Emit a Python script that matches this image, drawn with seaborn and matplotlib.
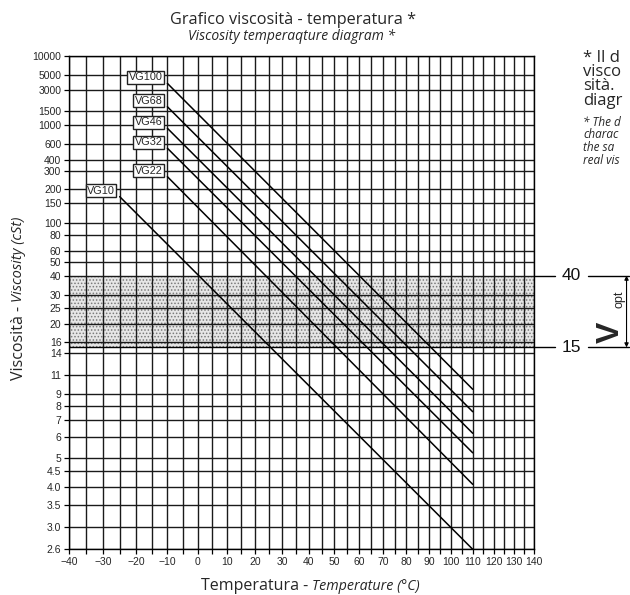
import numpy as np
import pandas as pd
import seaborn as sns
import matplotlib.pyplot as plt
import matplotlib.transforms as mtransforms
from matplotlib import font_manager as fm

# ISO VG grades: start point and end point of each line (temp in degC, viscosity in cSt)
grades = ['VG100', 'VG68', 'VG46', 'VG32', 'VG22', 'VG10']
t_start = [-10, -10, -10, -10, -10, -25]
v_start = [3690, 1730, 916, 533, 265, 170]
t_end = [110, 110, 110, 110, 110, 110]
v_end = [9.43, 7.55, 6.19, 5.23, 4.07, 2.6]

y_ticks = [10000, 5000, 3000, 1500, 1000, 600, 400, 300, 200, 150, 100, 80, 60, 50,
           40, 30, 25, 20, 16, 14, 11, 9, 8, 7, 6, 5, 4.5, 4.0, 3.5, 3.0, 2.6]
y_labels = ['10000', '5000', '3000', '1500', '1000', '600', '400', '300', '200', '150',
            '100', '80', '60', '50', '40', '30', '25', '20', '16', '14', '11', '9', '8',
            '7', '6', '5', '4.5', '4.0', '3.5', '3.0', '2.6']
x_major = list(range(-40, 141, 10))
x_minor = list(range(-35, 141, 10))

v_opt_low, v_opt_high = 15, 40


# Walther / ASTM D341 chart scales
def y_fwd(v):
    v = np.asarray(v, dtype=float)
    with np.errstate(invalid='ignore', divide='ignore'):
        return np.log10(np.log10(v + 0.7))


def y_inv(y):
    y = np.asarray(y, dtype=float)
    return 10 ** (10 ** y) - 0.7


def x_fwd(t):
    t = np.asarray(t, dtype=float)
    with np.errstate(invalid='ignore', divide='ignore'):
        return np.log10(t + 273.15)


def x_inv(u):
    u = np.asarray(u, dtype=float)
    return 10 ** u - 273.15


rows = []
for g, ts, vs, te, ve in zip(grades, t_start, v_start, t_end, v_end):
    rows.append({'grade': g, 'temp': ts, 'visc': vs})
    rows.append({'grade': g, 'temp': te, 'visc': ve})
df = pd.DataFrame(rows)

sns.set_theme(style='white')
plt.rcParams['font.family'] = ['Open Sans', 'DejaVu Sans']
installed = {f.name for f in fm.fontManager.ttflist}
narrow = 'Liberation Sans Narrow' if 'Liberation Sans Narrow' in installed else 'Liberation Sans'

fig = plt.figure(figsize=(6.3, 5.95), dpi=100)
ax = fig.add_axes([69 / 630, 1 - 549.3 / 595, (534 - 69) / 630, (549.3 - 55.7) / 595])
ax.set_xscale('function', functions=(x_fwd, x_inv))
ax.set_yscale('function', functions=(y_fwd, y_inv))

sns.lineplot(data=df, x='temp', y='visc', hue='grade', units='grade', estimator=None,
             palette={g: 'black' for g in grades}, legend=False, lw=1.1, ax=ax, zorder=3)

ax.set_xlim(-40, 140)
ax.set_ylim(2.6, 10000)

# optimal viscosity band
plt.rcParams['hatch.linewidth'] = 0.7
ax.axhspan(v_opt_low, v_opt_high, facecolor='#e6e6e6', edgecolor='#7a7a7a',
           hatch='.....', lw=0, zorder=0.3)
ax.axhline(v_opt_low, color='black', lw=1.0, zorder=0.6)

# ticks and grid
ax.set_xticks(x_major)
ax.set_xticks(x_minor, minor=True)
ax.set_xticklabels([str(t).replace('-', '\u2212') for t in x_major],
                   fontfamily=narrow, fontsize=7.5)
ax.set_yticks(y_ticks)
ax.set_yticklabels(y_labels, fontfamily=narrow, fontsize=7.5)
ax.yaxis.set_minor_locator(plt.NullLocator())
ax.tick_params(axis='both', which='both', direction='out', length=3.5, width=0.9,
               color='black', pad=2, bottom=True, left=True)
ax.set_axisbelow(True)
ax.grid(True, which='both', color='#1a1a1a', lw=1.0)
for s in ax.spines.values():
    s.set_color('black')
    s.set_linewidth(1.0)
ax.set_xlabel('')
ax.set_ylabel('')

# grade labels at line starts
for g, ts, vs in zip(grades, t_start, v_start):
    ax.annotate(g, xy=(ts, vs), xytext=(-5, 6), textcoords='offset pixels',
                ha='right', va='center', fontsize=7.8, fontfamily=narrow, zorder=5,
                bbox=dict(boxstyle='square,pad=0.12', fc='white', ec='#222222', lw=1.0))

# titles
fig.text(293 / 630, 1 - 20 / 595, 'Grafico viscosità - temperatura *',
         ha='center', va='center', fontsize=11.7)
fig.text(292 / 630, 1 - 37 / 595, 'Viscosity temperaqture diagram *',
         ha='center', va='center', fontsize=10, style='italic')

# axis labels (upright + italic parts)
fig.text(312 / 630, 1 - 586 / 595, 'Temperatura - ', ha='right', va='center', fontsize=11.5)
fig.text(312 / 630, 1 - 586 / 595, 'Temperature (°C)', ha='left', va='center',
         fontsize=10.3, style='italic')
fig.text(19 / 630, 1 - 302 / 595, 'Viscosità - ', ha='center', va='top',
         rotation=90, fontsize=11.5)
fig.text(19 / 630, 1 - 302 / 595, 'Viscosity (cSt)', ha='center', va='bottom',
         rotation=90, fontsize=10.5, style='italic')

# right side: optimal range markers
trans = mtransforms.blended_transform_factory(ax.transAxes, ax.transData)
for v in (v_opt_high, v_opt_low):
    ax.plot([1.0, 1.045], [v, v], color='black', lw=1.0, transform=trans, clip_on=False)
    ax.plot([1.117, 1.205], [v, v], color='black', lw=1.0, transform=trans, clip_on=False)
    ax.text(1.081, v, str(v), transform=trans, ha='center', va='center',
            fontsize=12.5, fontfamily=narrow, color='#111111')
ax.annotate('', xy=(1.199, v_opt_low), xytext=(1.199, v_opt_high), xycoords=trans,
            textcoords=trans,
            arrowprops=dict(arrowstyle='<|-|>', color='black', lw=0.8, mutation_scale=6,
                            shrinkA=0, shrinkB=0), annotation_clip=False)
fig.text(611 / 630, 1 - 332 / 595, 'V', rotation=90, ha='center', va='center',
         fontsize=23, fontweight='bold', fontfamily='Liberation Sans')
fig.text(619 / 630, 1 - 299 / 595, 'opt', rotation=90, ha='center', va='center',
         fontsize=9, fontfamily=narrow)

# side notes: only the part that shows at the right edge of the page
note_it = ['* Il d', 'visco', 'sità.', 'diagr']
fig.text(583 / 630, 1 - 50 / 595, '\n'.join(note_it), ha='left', va='top',
         fontsize=12, linespacing=0.85)
note_en = ['* The d', 'charac', 'the sa', 'real vis']
fig.text(583 / 630, 1 - 116 / 595, '\n'.join(note_en), ha='left', va='top',
         fontsize=8.5, style='italic', linespacing=0.95)

fig.savefig('out.png', dpi=100)
plt.close(fig)
